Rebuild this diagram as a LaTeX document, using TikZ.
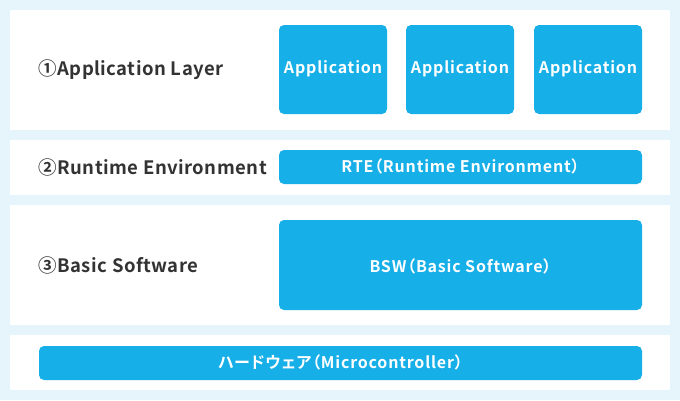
\documentclass[tikz,border=0pt]{standalone}
\usepackage{fontspec}
\setmainfont{Noto Sans CJK JP}[BoldFont={* Bold}]
\newfontfamily\boxfont{Noto Sans CJK JP}[UprightFont={* Bold}, LetterSpace=5, RawFeature=+palt]
\newfontfamily\labelfont{Noto Sans CJK JP}[UprightFont={* Bold}, LetterSpace=2.5]
\definecolor{bgblue}{HTML}{E6F4FC}
\definecolor{boxblue}{HTML}{17AFE8}
\definecolor{txtgray}{HTML}{333333}
\tikzset{
  panel/.style={fill=white, draw=none},
  bluebox/.style={fill=boxblue, draw=none, rounded corners=5pt},
  boxtext/.style={text=white, font=\boxfont\fontsize{16}{18}\selectfont},
  layertext/.style={text=txtgray, font=\labelfont\fontsize{18.5}{21}\selectfont, anchor=west}
}
\begin{document}
\begin{tikzpicture}[x=1pt,y=-1pt]
\fill[bgblue] (0,0) rectangle (680,400);
\useasboundingbox (0,0) rectangle (680,400);
% panels
\fill[panel] (10,10) rectangle (670,130);
\fill[panel] (10,140) rectangle (670,195);
\fill[panel] (10,205) rectangle (670,325);
\fill[panel] (10,335) rectangle (670,390);
% layer labels
\node[layertext] (l1) at (35,70) {①Application Layer};
\node[layertext] (l2) at (35,167) {②Runtime Environment};
\node[layertext] (l3) at (35,265) {③Basic Software};
% boxes
\fill[bluebox] (279,25) rectangle (387,114);
\node[boxtext] (a1) at (333,68.5) {Application};
\fill[bluebox] (406,25) rectangle (514,114);
\node[boxtext] (a2) at (460,68.5) {Application};
\fill[bluebox] (534,25) rectangle (642,114);
\node[boxtext] (a3) at (588,68.5) {Application};
\fill[bluebox] (279,150) rectangle (642,184);
\node[boxtext] (rte) at (460.5,166.5) {RTE（Runtime Environment）};
\fill[bluebox] (279,220) rectangle (642,310);
\node[boxtext] (bsw) at (460.5,266) {BSW（Basic Software）};
\fill[bluebox] (39,346) rectangle (642,380);
\node[boxtext] (hw) at (340.5,362.5) {ハードウェア（Microcontroller）};
\end{tikzpicture}
\end{document}
